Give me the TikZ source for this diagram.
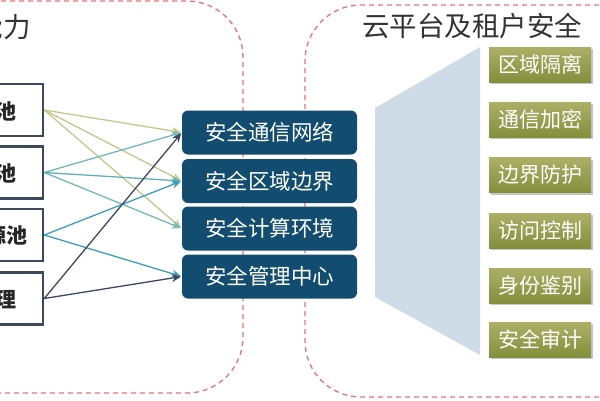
\documentclass[tikz,border=0pt]{standalone}
\usepackage{fontspec}
\setmainfont{Noto Sans CJK SC}
\usetikzlibrary{arrows.meta,shadows}
\definecolor{dashred}{HTML}{E8707A}
\definecolor{boxblue}{HTML}{124D6F}
\definecolor{frameslate}{HTML}{3C4A5C}
\definecolor{khaki}{HTML}{C4C68C}
\definecolor{tealc}{HTML}{72B8B6}
\definecolor{bluec}{HTML}{3A9EC0}
\definecolor{navyc}{HTML}{3A4860}
\definecolor{trap}{HTML}{CFDBE6}
\definecolor{oltop}{HTML}{ABB066}
\definecolor{olbot}{HTML}{838F3C}
\definecolor{titlegray}{HTML}{333333}
\tikzset{
  zone/.style={draw=dashred, line width=1.3pt, dash pattern=on 5pt off 4pt, rounded corners=56pt},
  srcbox/.style={draw=frameslate, line width=2.5pt, fill=white, minimum width=90pt, minimum height=52pt, inner sep=0pt},
  srctext/.style={font=\fontsize{21}{24}\selectfont\bfseries, text=black!85, anchor=east, inner sep=0pt},
  midbox/.style={fill=boxblue, rounded corners=6pt, minimum width=175pt, minimum height=44pt, inner sep=0pt, text=white, font=\fontsize{21.5}{24}\selectfont},
  greenbox/.style={top color=oltop, bottom color=olbot, minimum width=102pt, minimum height=35pt, inner sep=0pt, text=white, font=\fontsize{21}{24}\selectfont, drop shadow={shadow xshift=2pt, shadow yshift=-2pt, fill=black!45, opacity=0.5}},
  conn/.style={line width=1.3pt, -{Stealth[length=9pt,width=8pt]}, shorten >=1pt},
  titletext/.style={text=titlegray, font=\fontsize{27.5}{30}\selectfont, inner sep=0pt}
}
\begin{document}
\begin{tikzpicture}[x=1pt,y=-1pt]
\useasboundingbox (0,0) rectangle (600,400);
\clip (0,0) rectangle (600,400);
% dashed zones
\draw[zone] (-80,1) -- (243,1) -- (243,393) -- (-80,393);
\draw[zone] (680,5) -- (305,5) -- (305,397) -- (680,397);
% titles
\node[titletext, anchor=east] (lt) at (31,27) {能力};
\node[titletext] (rt) at (472,26) {云平台及租户安全};
% trapezoid
\fill[trap] (375,108) -- (480,47) -- (480,355) -- (375,297) -- cycle;
% left boxes
\node[srcbox] (L1) at (-2,110) {};
\node[srcbox] (L2) at (-2,172.5) {};
\node[srcbox] (L3) at (-2,235) {};
\node[srcbox] (L4) at (-2,298.5) {};
\node[srctext] (t1) at (17,111) {池};
\node[srctext] (t2) at (17,173.5) {池};
\node[srctext] (t3) at (28,236) {源池};
\node[srctext] (t4) at (17,299.5) {理};
% middle boxes
\node[midbox] (n1) at (269.5,132.5) {安全通信网络};
\node[midbox] (n2) at (269.5,181) {安全区域边界};
\node[midbox] (n3) at (269.5,228.5) {安全计算环境};
\node[midbox] (n4) at (269.5,276.5) {安全管理中心};
% connectors
\draw[conn, khaki] (L1.east) -- (n1.west);
\draw[conn, khaki] (L1.east) -- (n2.west);
\draw[conn, khaki] (L1.east) -- (n3.west);
\draw[conn, tealc] (L2.east) -- (n1.west);
\draw[conn, tealc] (L2.east) -- (n3.west);
\draw[conn, tealc!70!bluec] (L2.east) -- (n2.west);
\draw[conn, bluec] (L3.east) -- (n2.west);
\draw[conn, bluec] (L3.east) -- (n4.west);
\draw[conn, navyc] (L4.east) -- (n1.west);
\draw[conn, navyc] (L4.east) -- (n4.west);
% green boxes
\node[greenbox] (g1) at (540,64.5) {区域隔离};
\node[greenbox] (g2) at (540,119.5) {通信加密};
\node[greenbox] (g3) at (540,175) {边界防护};
\node[greenbox] (g4) at (540,230.5) {访问控制};
\node[greenbox] (g5) at (540,285.5) {身份鉴别};
\node[greenbox] (g6) at (540,339.5) {安全审计};
\end{tikzpicture}
\end{document}
